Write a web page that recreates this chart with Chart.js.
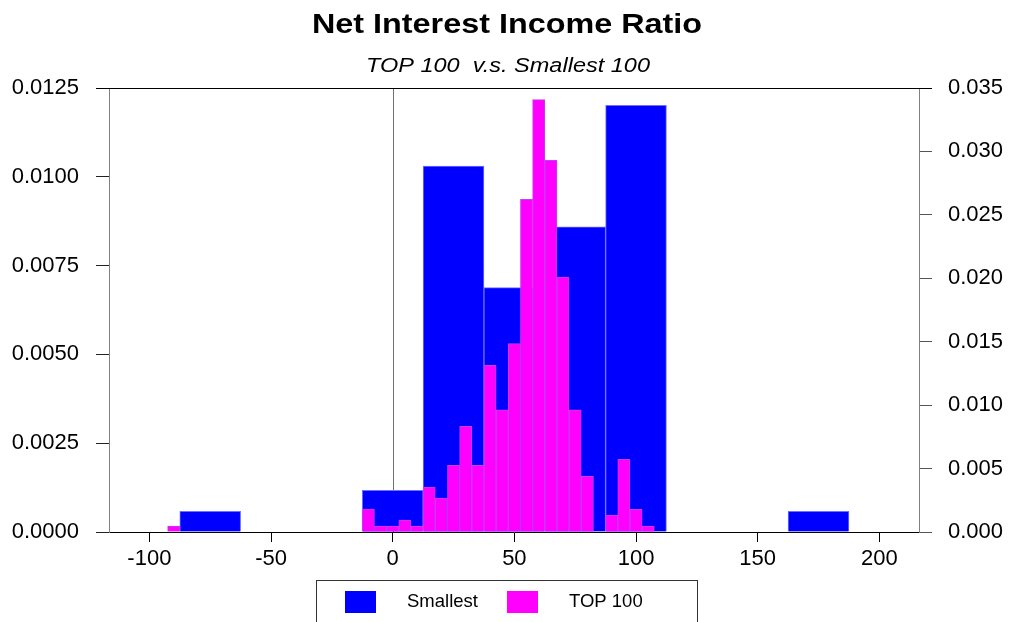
<!DOCTYPE html>
<html>
<head>
<meta charset="utf-8">
<title>Net Interest Income Ratio</title>
<script src="https://cdn.jsdelivr.net/npm/chart.js@4/dist/chart.umd.min.js"></script>
<style>
  html, body { margin: 0; padding: 0; background: #ffffff; }
  #wrap { width: 1011px; height: 622px; position: relative; overflow: hidden; }
</style>
</head>
<body>
<div id="wrap"><canvas id="chart" width="1011" height="622"></canvas></div>
<script>
// Histogram densities, bins given by their centres
const seriesNames = ['Smallest', 'TOP 100'];
const smallestBins = [-75, 0, 25, 50, 75, 100, 175];
const smallestDensity = [0.00058, 0.00117, 0.01030, 0.00688, 0.00859, 0.01201, 0.00058];
const top100Bins = [-90, -10, -5, 0, 5, 10, 15, 20, 25, 30, 35, 40, 45, 50, 55, 60, 65, 70, 75, 80, 85, 90, 95, 100, 105];
const top100Density = [0.00047, 0.00181, 0.00047, 0.00047, 0.00093, 0.00047, 0.00355, 0.00268, 0.00526, 0.00833,
                       0.00526, 0.01314, 0.00964, 0.01485, 0.02622, 0.03408, 0.02930, 0.02010, 0.00964, 0.00439,
                       0, 0.00134, 0.00573, 0.00179, 0.00047];
const xTickValues = [-100, -50, 0, 50, 100, 150, 200];
const leftTickValues = [0, 0.0025, 0.005, 0.0075, 0.01, 0.0125];
const rightTickValues = [0, 0.005, 0.01, 0.015, 0.02, 0.025, 0.03, 0.035];
const titleText = 'Net Interest Income Ratio';
const subtitleText = 'TOP 100  v.s. Smallest 100';

const FONT = "'Liberation Sans', Arial, Helvetica, sans-serif";
const X_MIN = -116.6, X_MAX = 216.3;

const setTicks = values => scale => { scale.ticks = values.map(v => ({ value: v })); };

// Title, subtitle, zero line, frame and legend
const decorations = {
  id: 'decorations',
  beforeDatasetsDraw(chart) {
    const { ctx, chartArea } = chart;
    const x0 = Math.round(chart.scales.x.getPixelForValue(0)) + 0.5;
    ctx.save();
    ctx.strokeStyle = '#707070';
    ctx.lineWidth = 1;
    ctx.beginPath();
    ctx.moveTo(x0, chartArea.top);
    ctx.lineTo(x0, chartArea.bottom);
    ctx.stroke();
    ctx.restore();
  },
  afterDraw(chart) {
    const { ctx, chartArea } = chart;
    ctx.save();
    // top frame line
    ctx.strokeStyle = '#000';
    ctx.lineWidth = 1;
    const ty = Math.round(chartArea.top) + 0.5;
    ctx.beginPath();
    ctx.moveTo(chartArea.left - 13, ty);
    ctx.lineTo(chartArea.right + 13, ty);
    ctx.stroke();

    // stretched text helper
    const drawText = (text, font, cx, cy, targetWidth) => {
      ctx.save();
      ctx.font = font;
      const w = ctx.measureText(text).width;
      ctx.translate(cx, cy);
      ctx.scale(targetWidth / w, 1);
      ctx.textAlign = 'center';
      ctx.textBaseline = 'middle';
      ctx.fillStyle = '#000';
      ctx.fillText(text, 0, 0);
      ctx.restore();
    };
    drawText(titleText, 'bold 28px ' + FONT, 507, 25, 390);
    drawText(subtitleText, 'italic 20px ' + FONT, 508, 66, 284);

    // legend box
    ctx.strokeStyle = '#333';
    ctx.lineWidth = 1;
    ctx.strokeRect(316.5, 580.5, 381, 60);
    const ds = chart.data.datasets;
    const items = seriesNames.map(n => ds.find(d => d.label === n));
    const swatchX = [345, 507];
    const textX = [407, 569];
    items.forEach((d, i) => {
      ctx.fillStyle = d.backgroundColor;
      ctx.fillRect(swatchX[i], 591, 31, 22);
      ctx.fillStyle = '#000';
      ctx.font = '18.5px ' + FONT;
      ctx.textAlign = 'left';
      ctx.textBaseline = 'middle';
      ctx.fillText(d.label, textX[i], 602);
    });
    ctx.restore();
  }
};

const tickFont = { family: FONT, size: 22 };

new Chart(document.getElementById('chart'), {
  type: 'bar',
  data: {
    datasets: [
      {
        label: 'TOP 100',
        data: top100Bins.map((x, i) => ({ x, y: top100Density[i] })),
        xAxisID: 'x',
        yAxisID: 'y1',
        backgroundColor: '#ff00ff',
        borderColor: '#c43cf4',
        borderWidth: 1,
        barPercentage: 1,
        categoryPercentage: 1,
        grouped: false,
        order: 0
      },
      {
        label: 'Smallest',
        data: smallestBins.map((x, i) => ({ x, y: smallestDensity[i] })),
        xAxisID: 'x2',
        yAxisID: 'y',
        backgroundColor: '#0000ff',
        borderColor: '#7070ff',
        borderWidth: 1,
        barPercentage: 1,
        categoryPercentage: 1,
        grouped: false,
        order: 1
      }
    ]
  },
  options: {
    responsive: false,
    animation: false,
    devicePixelRatio: 1,
    layout: { padding: { top: 88, left: 0, right: 0, bottom: 0 } },
    plugins: {
      legend: { display: false },
      title: { display: false },
      tooltip: { enabled: false }
    },
    scales: {
      x: {
        type: 'linear',
        position: 'bottom',
        min: X_MIN,
        max: X_MAX,
        offset: false,
        afterBuildTicks: setTicks(xTickValues),
        afterFit: s => { s.height = 90; },
        grid: { drawOnChartArea: false, drawTicks: true, tickLength: 10, color: '#000', offset: false },
        border: { display: true, color: '#000', width: 1 },
        ticks: { font: tickFont, color: '#000', padding: 4, maxRotation: 0, autoSkip: false,
                 callback: v => String(v) }
      },
      x2: {
        type: 'linear',
        display: false,
        min: X_MIN,
        max: X_MAX,
        offset: false,
        afterBuildTicks: setTicks(xTickValues)
      },
      y: {
        type: 'linear',
        position: 'left',
        min: 0,
        max: 0.0125,
        afterBuildTicks: setTicks(leftTickValues),
        afterFit: s => { s.width = 109; },
        grid: { drawOnChartArea: false, drawTicks: true, tickLength: 13, color: '#222' },
        border: { display: true, color: '#808080', width: 1 },
        ticks: { font: tickFont, color: '#000', padding: 17, callback: v => Number(v).toFixed(4) }
      },
      y1: {
        type: 'linear',
        position: 'right',
        min: 0,
        max: 0.035,
        afterBuildTicks: setTicks(rightTickValues),
        afterFit: s => { s.width = 92; },
        grid: { drawOnChartArea: false, drawTicks: true, tickLength: 13, color: '#555' },
        border: { display: true, color: '#808080', width: 1 },
        ticks: { font: tickFont, color: '#000', padding: 16, callback: v => Number(v).toFixed(3) }
      }
    }
  },
  plugins: [decorations]
});
</script>
</body>
</html>
